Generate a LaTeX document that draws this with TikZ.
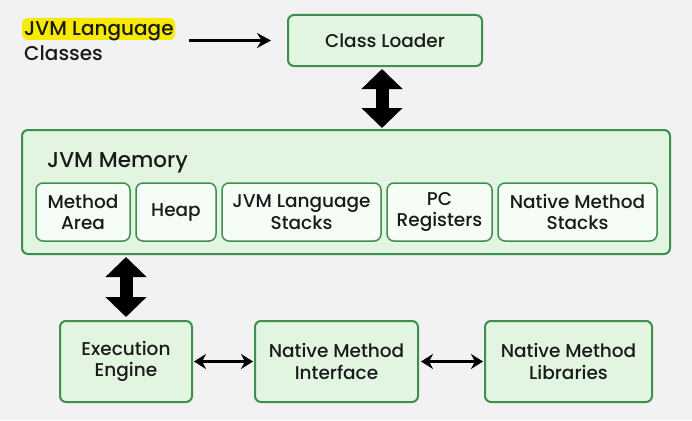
\documentclass[tikz,border=0pt]{standalone}
\usepackage{fontspec}
\setmainfont{Poppins}[UprightFont=* Medium]
\usetikzlibrary{arrows.meta}
\definecolor{bg}{HTML}{F2F2F2}
\definecolor{boxfill}{HTML}{E1F5E1}
\definecolor{boxdraw}{HTML}{3E8E4E}
\definecolor{innerfill}{HTML}{F6FCF6}
\definecolor{hl}{HTML}{F5EA00}
\definecolor{txt}{HTML}{1A1A1A}
\begin{document}
\begin{tikzpicture}[x=1pt,y=-1pt,
  lbl/.style={font=\fontsize{18.5}{21.5}\selectfont, text=txt, align=center},
  box/.style={lbl, draw=boxdraw, line width=2pt, fill=boxfill, rounded corners=6pt, inner sep=0pt},
  inbox/.style={lbl, draw=boxdraw, line width=1.5pt, fill=innerfill, rounded corners=7pt, inner sep=0pt, minimum height=58pt},
  thick arrow/.style={line width=13pt, {Triangle[length=20pt,width=40pt]}-{Triangle[length=20pt,width=40pt]}},
  thin arrow/.style={line width=2.2pt, {Stealth[length=12pt,width=15pt]}-{Stealth[length=12pt,width=15pt]}}
]
\fill[bg] (0,0) rectangle (692,420);
\useasboundingbox (0,0) rectangle (692,420);

% highlight and source text
\fill[hl, rounded corners=6pt] (22,18) rectangle (175,40);
\node[lbl, align=left, anchor=west, inner sep=0pt, font=\fontsize{20}{24.5}\selectfont] (src) at (24,41) {JVM Language\\Classes};

\node[box, minimum width=194pt, minimum height=51pt] (cl) at (385,40.5) {Class Loader};

\node[box, minimum width=648pt, minimum height=124pt] (mem) at (346,192) {};
\node[lbl, anchor=west, inner sep=0pt, font=\fontsize{21.5}{24}\selectfont] (memlbl) at (47,162.5) {JVM Memory};

\node[inbox, minimum width=94pt] (ma) at (83,212) {Method\\Area};
\node[inbox, minimum width=80pt] (heap) at (176,212) {Heap};
\node[inbox, minimum width=159pt] (jls) at (301.5,212) {JVM Language\\Stacks};
\node[inbox, minimum width=105pt] (pc) at (439.5,212) {PC\\Registers};
\node[inbox, minimum width=159pt] (nms) at (577.5,212) {Native Method\\Stacks};

\node[box, minimum width=132pt, minimum height=81pt] (ee) at (126,361.5) {Execution\\Engine};
\node[box, minimum width=163pt, minimum height=81pt] (nmi) at (336.5,361.5) {Native Method\\Interface};
\node[box, minimum width=167pt, minimum height=81pt] (nml) at (568.5,361.5) {Native Method\\Libraries};

% connectors
\draw[line width=2.2pt, -{Stealth[length=14pt,width=15pt]}, shorten <=15pt, shorten >=16pt] (src.east |- cl.west) -- (cl.west);
\draw[thick arrow, shorten <=2pt, shorten >=1pt] ([xshift=-3pt]cl.south) -- ([xshift=-3pt]cl.south |- mem.north);
\draw[thick arrow, shorten <=2pt, shorten >=3pt] (ee.north |- mem.south) -- (ee.north);
\draw[thin arrow, shorten <=1pt, shorten >=1pt] (ee.east) -- (nmi.west);
\draw[thin arrow, shorten <=2pt, shorten >=1pt] (nmi.east) -- (nml.west);
\end{tikzpicture}
\end{document}
